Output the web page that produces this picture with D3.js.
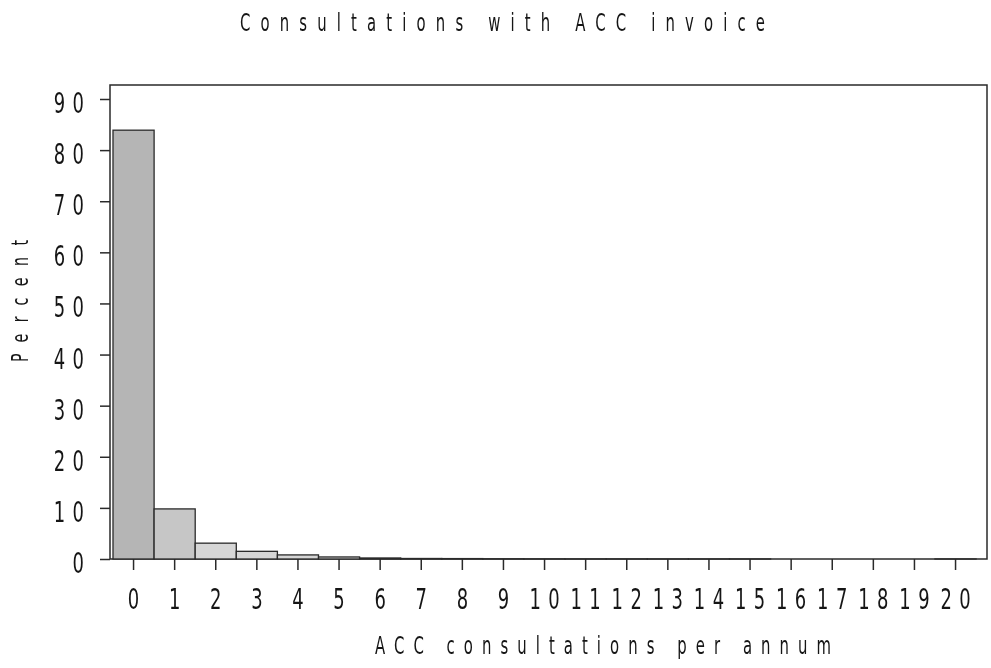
<!DOCTYPE html>
<html><head><meta charset="utf-8">
<script src="https://cdn.jsdelivr.net/npm/d3@7"></script>
<style>
body{margin:0;background:#fff;}
svg{filter:grayscale(1);}
text{font-family:"DejaVu Sans","Liberation Sans",sans-serif;fill:#151515;font-weight:400;}
</style></head>
<body><svg id="c" width="991" height="668"></svg>
<script>
const categories = ["0","1","2","3","4","5","6","7","8","9","10","11","12","13","14","15","16","17","18","19","20"];
const percentValues = [83.9, 9.8, 3.1, 1.5, 0.8, 0.4, 0.2, 0.1, 0.08, 0.05, 0.03, 0.02, 0.02, 0.01, 0.01, 0.01, 0, 0, 0, 0, 0.01];
const yTicks = [0,10,20,30,40,50,60,70,80,90];
const titleText = "Consultations with ACC invoice";
const xLabel = "ACC consultations per annum";
const yLabel = "Percent";

const svg = d3.select("#c");
const L = 110, R = 987, T = 85, B = 559;
const SX = 0.62;          // horizontal compression for the narrow plotter font
const TICK_FS = 29, TICK_LS = 12;
const x = d3.scaleBand().domain(categories).range([113, 113 + 41.1*21]).padding(0);
const y = d3.scaleLinear().domain([0,90]).range([B, 99]);
const fill = d3.scaleLinear().domain([0,2]).range(["#b5b5b5","#d6d6d6"]).clamp(true);

// frame
svg.append("rect").attr("x",L).attr("y",T).attr("width",R-L).attr("height",B-T)
  .attr("fill","none").attr("stroke","#2a2a2a").attr("stroke-width",1.5);

// bars
svg.selectAll("rect.bar").data(percentValues).enter().append("rect")
  .attr("class","bar")
  .attr("x",(d,i)=>x(categories[i]))
  .attr("width",x.bandwidth())
  .attr("y",d=>y(d))
  .attr("height",d=>B-y(d))
  .attr("fill",(d,i)=>fill(i))
  .attr("stroke","#2a2a2a").attr("stroke-width",1.3);

// y axis ticks
const ya = svg.append("g").attr("transform",`translate(${L},0)`)
  .call(d3.axisLeft(y).tickValues(yTicks).tickSize(10).tickFormat(""));
ya.select(".domain").remove();
ya.selectAll("line").attr("stroke","#2a2a2a").attr("stroke-width",1.5);
ya.selectAll("text").remove();

// y tick labels
svg.append("g").selectAll("text").data(yTicks).enter().append("text")
  .attr("transform",d=>`translate(${84 + TICK_LS*SX},${y(d)+14}) scale(${SX},1)`)
  .attr("text-anchor","end").attr("font-size",TICK_FS).attr("letter-spacing",TICK_LS+"px")
  .text(d=>String(d));

// x axis ticks
const xa = svg.append("g").attr("transform",`translate(0,${B})`)
  .call(d3.axisBottom(x).tickSize(11).tickFormat(""));
xa.select(".domain").remove();
xa.selectAll("line").attr("stroke","#2a2a2a").attr("stroke-width",1.5);
xa.selectAll("text").remove();

// x tick labels
svg.append("g").selectAll("text").data(categories).enter().append("text")
  .attr("transform",d=>`translate(${x(d)+x.bandwidth()/2 + TICK_LS*SX/2},609) scale(${SX},1)`)
  .attr("text-anchor","middle").attr("font-size",TICK_FS).attr("letter-spacing",TICK_LS+"px")
  .text(d=>d);

// title
svg.append("text").attr("transform",`translate(240,31) scale(${SX},1)`)
  .attr("font-size",24).attr("textLength",(765-240)/SX).attr("lengthAdjust","spacing")
  .text(titleText);
// x label
svg.append("text").attr("transform",`translate(375,654) scale(${SX},1)`)
  .attr("font-size",24).attr("textLength",(831-375)/SX).attr("lengthAdjust","spacing")
  .text(xLabel);
// y label
svg.append("text").attr("transform",`translate(28,362) rotate(-90) scale(${SX},1)`)
  .attr("font-size",23).attr("textLength",(362-240)/SX).attr("lengthAdjust","spacing")
  .text(yLabel);
</script></body></html>
